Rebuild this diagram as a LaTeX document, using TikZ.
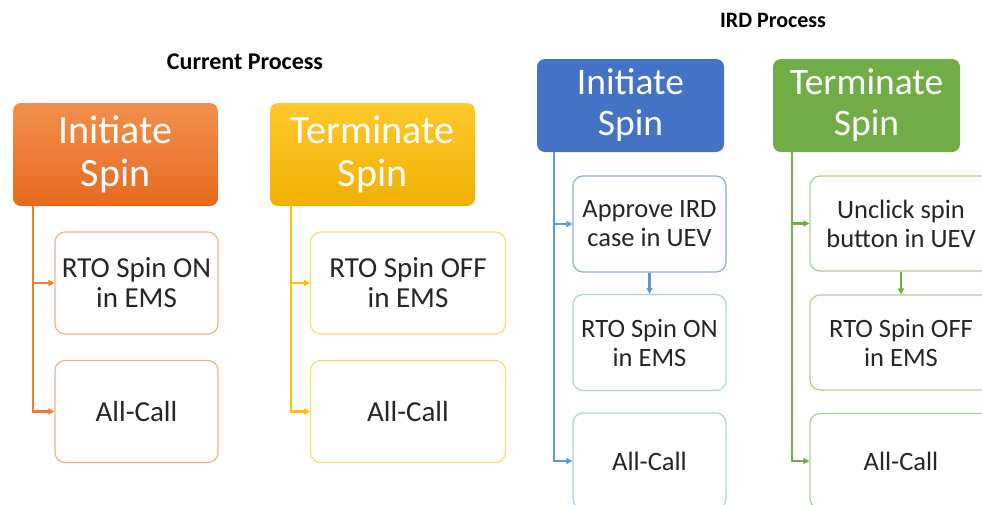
\documentclass[tikz,border=0pt]{standalone}
\usepackage{fontspec}
\setmainfont{Carlito}
\usetikzlibrary{positioning,arrows.meta}

\definecolor{orline}{HTML}{ED7D31}
\definecolor{ortop}{HTML}{F28F4E}
\definecolor{orbot}{HTML}{E66A1D}
\definecolor{oredge}{HTML}{F4B183}
\definecolor{yeline}{HTML}{FFC000}
\definecolor{yetop}{HTML}{FFC92C}
\definecolor{yebot}{HTML}{EFB000}
\definecolor{yeedge}{HTML}{FFD966}
\definecolor{blhead}{HTML}{4472C4}
\definecolor{blline}{HTML}{5B9BD5}
\definecolor{bledge}{HTML}{8FAADC}
\definecolor{tledge}{HTML}{A8D4D8}
\definecolor{grhead}{HTML}{70AD47}
\definecolor{gredge}{HTML}{A9D18E}

\tikzset{
  head/.style={rounded corners=8pt, text=white, align=center, inner sep=0pt,
    font=\fontsize{40}{43}\selectfont, minimum width=205pt, minimum height=103pt},
  sub/.style={draw, rounded corners=10pt, fill=white, align=center, inner sep=0pt,
    text=black!85, line width=1.2pt, font=\fontsize{29}{30}\selectfont,
    minimum width=163pt, minimum height=102pt},
  link/.style={line width=2.2pt, -{Triangle[length=6pt,width=6pt]}},
  title/.style={font=\fontsize{22}{26}\selectfont\bfseries}
}

\begin{document}
\begin{tikzpicture}[x=1pt,y=-1pt]
\useasboundingbox (0,0) rectangle (982,504);
\clip (0,0) rectangle (982,504);

\node[title, font=\fontsize{24}{26}\selectfont\bfseries] (cur) at (245,62) {Current Process};
\node[title] (ird) at (773,20) {IRD Process};

\node[head, top color=ortop, bottom color=orbot] (ini) at (115.5,154.5) {Initiate\\Spin};
\node[sub, draw=oredge] (oa) at (136.5,283) {RTO Spin ON\\in EMS};
\node[sub, draw=oredge] (ob) at (136.5,411.5) {All-Call};

\node[head, top color=yetop, bottom color=yebot] (ter) at (372.5,154.5) {Terminate\\Spin};
\node[sub, draw=yeedge, minimum width=195pt] (ya) at (408,283) {RTO Spin OFF\\in EMS};
\node[sub, draw=yeedge, minimum width=195pt] (yb) at (408,411.5) {All-Call};

\node[head, fill=blhead, minimum width=187pt, minimum height=93pt,
  font=\fontsize{37.5}{41}\selectfont] (bini) at (630.5,105.5) {Initiate\\Spin};
\node[sub, draw=bledge, minimum width=153pt, minimum height=96pt,
  font=\fontsize{26.5}{29}\selectfont] (ba) at (649.5,224) {Approve IRD\\case in UEV};
\node[sub, draw=tledge, minimum width=153pt, minimum height=96pt,
  font=\fontsize{26.5}{29}\selectfont] (bb) at (649.5,342.5) {RTO Spin ON\\in EMS};
\node[sub, draw=tledge, minimum width=153pt, minimum height=96pt,
  font=\fontsize{26.5}{29}\selectfont] (bc) at (649.5,461) {All-Call};

\node[head, fill=grhead, minimum width=187pt, minimum height=93pt,
  font=\fontsize{37.5}{41}\selectfont] (gter) at (866.5,105.5) {Terminate\\Spin};
\node[sub, draw=gredge, minimum width=182pt, minimum height=95pt,
  font=\fontsize{26.5}{29}\selectfont] (ga) at (901,223.5) {Unclick spin\\button in UEV};
\node[sub, draw=gredge, minimum width=182pt, minimum height=95pt,
  font=\fontsize{26.5}{29}\selectfont] (gb) at (901,342.5) {RTO Spin OFF\\in EMS};
\node[sub, draw=gredge, minimum width=182pt, minimum height=95pt,
  font=\fontsize{26.5}{29}\selectfont] (gc) at (901,461) {All-Call};

\foreach \n in {oa,ob}
\draw[link, orline] ([xshift=20pt]ini.south west) |- (\n.west);

\foreach \n in {ya,yb}
\draw[link, yeline] ([xshift=21pt]ter.south west) |- (\n.west);

\foreach \n in {ba,bc}
\draw[link, blline] ([xshift=17pt]bini.south west) |- (\n.west);
\draw[link, blline] (ba) -- (bb);

\foreach \n in {ga,gc}
\draw[link, grhead] ([xshift=19pt]gter.south west) |- (\n.west);
\draw[link, grhead] (ga) -- (gb);
\end{tikzpicture}
\end{document}
